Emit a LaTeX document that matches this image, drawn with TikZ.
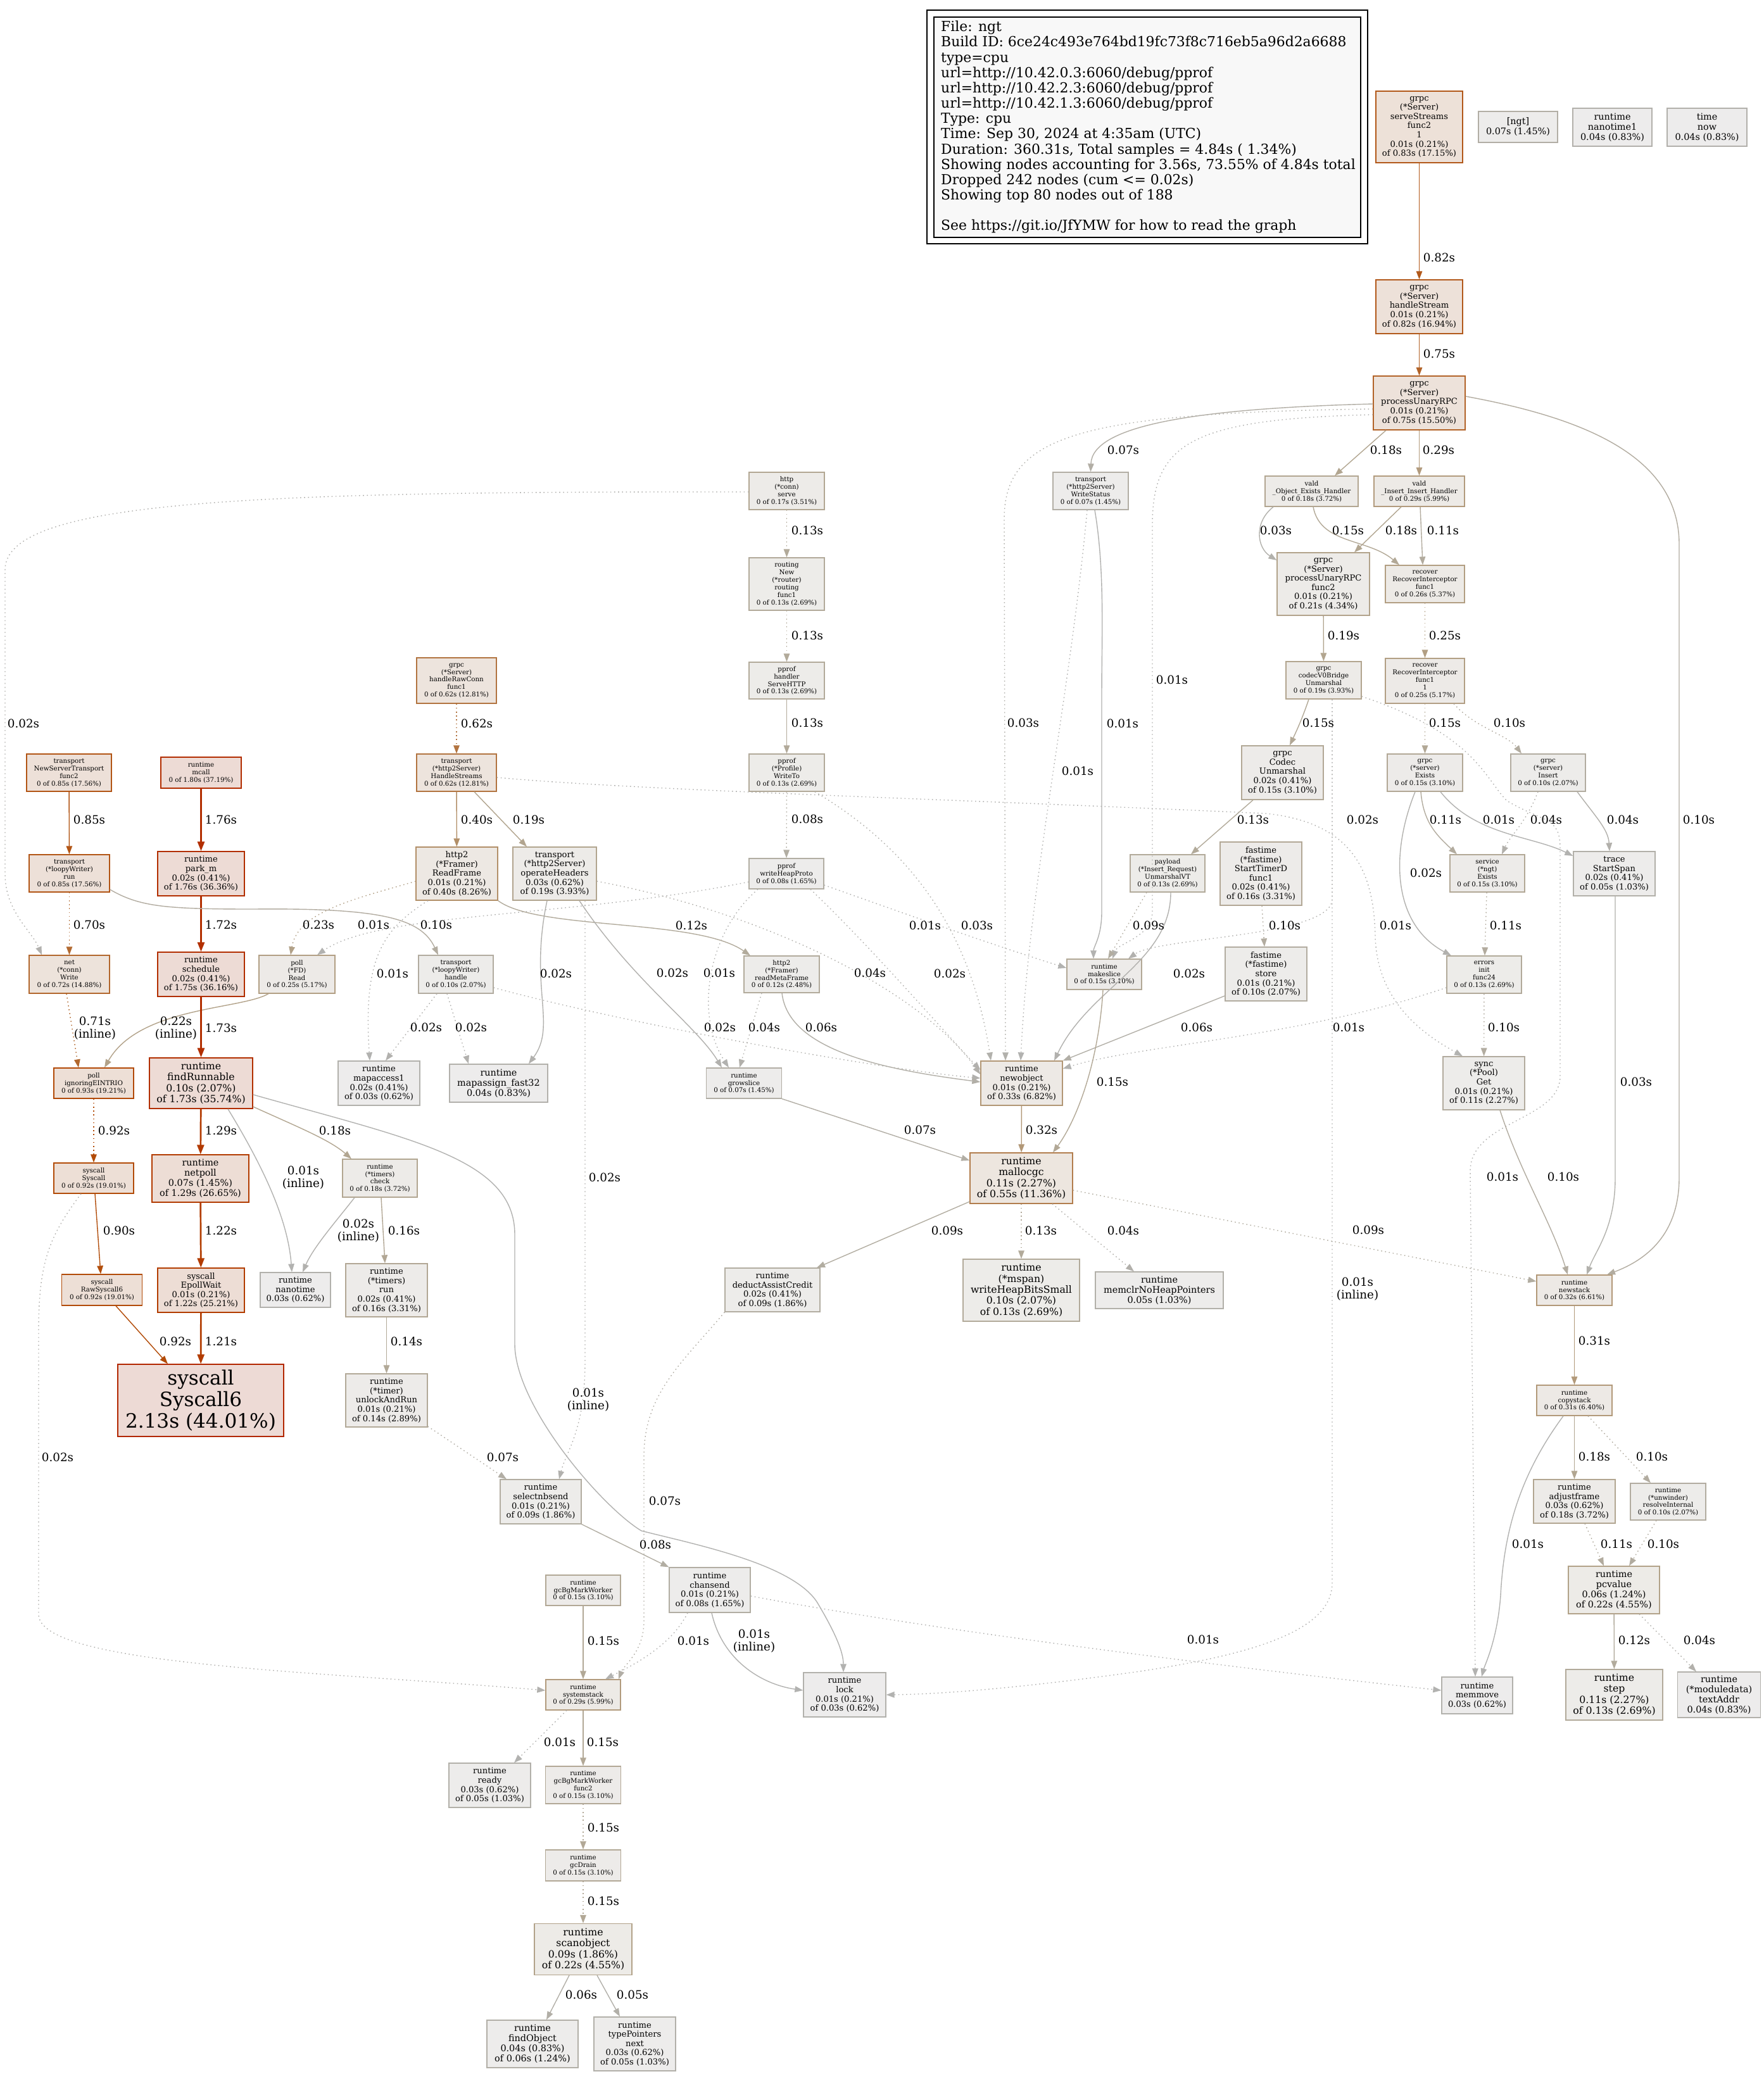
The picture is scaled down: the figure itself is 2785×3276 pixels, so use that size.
\documentclass[tikz,border=0pt]{standalone}
\usepackage{fontspec}
\setmainfont{DejaVu Serif}
\usetikzlibrary{arrows.meta}
\newcommand\fzA{\fontsize{10.3}{11.9}\selectfont}
\newcommand\fzB{\fontsize{13.1}{14.6}\selectfont}
\newcommand\fzC{\fontsize{14.4}{16.1}\selectfont}
\newcommand\fzD{\fontsize{15.7}{17.4}\selectfont}
\newcommand\fzE{\fontsize{31.1}{34.4}\selectfont}
\newcommand\fzG{\fontsize{18.3}{20.2}\selectfont}
\newcommand\fzL{\fontsize{21.9}{24.15}\selectfont}
\newcommand\gvcol[3]{\definecolor{F#1}{HTML}{#2}\definecolor{E#1}{HTML}{#3}\tikzset{k#1/.style={fill=F#1,draw=E#1},w#1/.style={draw=E#1}}}
\gvcol{001}{EDECEC}{B2B2B0}
\gvcol{002}{EDECEC}{B2B1AE}
\gvcol{003}{EDECEC}{B2B1AC}
\gvcol{004}{EDECEC}{B2B0AB}
\gvcol{005}{EDECEB}{B2B0A9}
\gvcol{006}{EDECEB}{B2AFA7}
\gvcol{007}{EDECEB}{B2AEA5}
\gvcol{008}{EDECEB}{B2AEA3}
\gvcol{009}{EDECEA}{B2ADA1}
\gvcol{010}{EDECEA}{B2ACA0}
\gvcol{011}{EDECEA}{B2AB9E}
\gvcol{012}{EDECEA}{B2AB9C}
\gvcol{013}{EDECE9}{B2AA9A}
\gvcol{014}{EDEBE9}{B2A998}
\gvcol{015}{EDEBE9}{B2A896}
\gvcol{016}{EDEBE9}{B2A795}
\gvcol{017}{EDEBE8}{B2A793}
\gvcol{018}{EDEBE8}{B2A691}
\gvcol{019}{EDEBE8}{B2A58F}
\gvcol{021}{EDEBE8}{B2A38B}
\gvcol{022}{EDEBE7}{B2A289}
\gvcol{023}{EDEBE7}{B2A188}
\gvcol{025}{EDEAE7}{B29F84}
\gvcol{026}{EDEAE6}{B29E82}
\gvcol{029}{EDEAE6}{B29B7D}
\gvcol{031}{EDE9E5}{B29979}
\gvcol{032}{EDE9E5}{B29877}
\gvcol{033}{EDE9E5}{B29775}
\gvcol{040}{EDE8E3}{B28F68}
\gvcol{055}{EDE6DF}{B27D4D}
\gvcol{062}{EDE4DD}{B27440}
\gvcol{070}{EDE3DB}{B26A31}
\gvcol{071}{EDE3DB}{B2682F}
\gvcol{072}{EDE3DB}{B2672D}
\gvcol{075}{EDE2DA}{B26328}
\gvcol{082}{EDE1D9}{B2591B}
\gvcol{083}{EDE1D8}{B25819}
\gvcol{085}{EDE0D8}{B25515}
\gvcol{090}{EDDFD6}{B24E0C}
\gvcol{092}{EDDFD6}{B24B08}
\gvcol{093}{EDDFD6}{B24907}
\gvcol{121}{EDDDD5}{B23C00}
\gvcol{122}{EDDDD5}{B23C00}
\gvcol{129}{EDDDD5}{B23A00}
\gvcol{172}{EDDBD5}{B22F00}
\gvcol{173}{EDDBD5}{B22F00}
\gvcol{175}{EDDBD5}{B22E00}
\gvcol{176}{EDDBD5}{B22E00}
\gvcol{180}{EDDBD5}{B22D00}
\gvcol{213}{EDDAD5}{B22600}
\definecolor{legfill}{HTML}{F8F8F8}
\tikzset{
  gv/.style={rectangle, line width=1.3pt, inner sep=0pt, align=center},
  f8/.style={font=\fzA}, f10/.style={font=\fzB}, f11/.style={font=\fzC},
  f12/.style={font=\fzD}, f24/.style={font=\fzE},
  ed/.style={line width=1.4pt, -{Triangle[length=13pt,width=9.5pt]}},
  thk/.style={line width=2.7pt, -{Triangle[length=15pt,width=11pt]}},
  dt/.style={dash pattern=on 1.6pt off 4.6pt},
  elbl/.style={font=\fzG, align=center, inner sep=0pt},
  legbox/.style={draw=black, line width=1.4pt, inner sep=0pt}
}
\newcommand\gvnode[7]{\node[gv,#6,minimum width=#4pt,minimum height=#5pt] (#1) at (#2,#3) {#7};}
\newcommand\gvlab[4]{\node[elbl] (#1) at (#2,#3) {#4};}
\begin{document}
\begin{tikzpicture}[x=1pt,y=-1pt]
\useasboundingbox (0,0) rectangle (2785,3276);
\fill[white] (0,0) rectangle (2785,3276);
% legend
\node[legbox, minimum width=696pt, minimum height=369pt] (legO) at (1812,200.5) {};
\node[legbox, fill=legfill, minimum width=674pt, minimum height=348pt] (legI) at (1812,201) {};
\node[anchor=north west, inner sep=0pt, align=left, font=\fzL] (legT) at (1486,33) {File: ngt\\Build ID: 6ce24c493e764bd19fc73f8c716eb5a96d2a6688\\type=cpu\\url=http://10.42.0.3:6060/debug/pprof\\url=http://10.42.2.3:6060/debug/pprof\\url=http://10.42.1.3:6060/debug/pprof\\Type: cpu\\Time: Sep 30, 2024 at 4:35am (UTC)\\Duration: 360.31s, Total samples = 4.84s ( 1.34\%)\\Showing nodes accounting for 3.56s, 73.55\% of 4.84s total\\Dropped 242 nodes (cum <= 0.02s)\\Showing top 80 nodes out of 188\\[24.15pt]See https://git.io/JfYMW for how to read the graph};
% nodes
\gvnode{serveStreams}{2241.5}{200.5}{137}{113}{f10,k083}{grpc\\(*Server)\\serveStreams\\func2\\1\\0.01s (0.21\%)\\of 0.83s (17.15\%)}
\gvnode{ngt}{2397.5}{200.5}{125}{49}{f11,k007}{[ngt]\\0.07s (1.45\%)}
\gvnode{nanotimeA}{2546.5}{201}{125}{60}{f11,k004}{runtime\\nanotime1\\0.04s (0.83\%)}
\gvnode{timenow}{2696}{201}{126}{60}{f11,k004}{time\\now\\0.04s (0.83\%)}
\gvnode{handleStream}{2241.5}{484.5}{137}{85}{f10,k082}{grpc\\(*Server)\\handleStream\\0.01s (0.21\%)\\of 0.82s (16.94\%)}
\gvnode{PURPC}{2241.5}{636.5}{145}{85}{f10,k075}{grpc\\(*Server)\\processUnaryRPC\\0.01s (0.21\%)\\of 0.75s (15.50\%)}
\gvnode{httpServe}{1242.5}{775.5}{119}{59}{f8,k017}{http\\(*conn)\\serve\\0 of 0.17s (3.51\%)}
\gvnode{WriteStatus}{1722.5}{775.5}{119}{59}{f8,k007}{transport\\(*http2Server)\\WriteStatus\\0 of 0.07s (1.45\%)}
\gvnode{ObjExists}{2071.5}{776}{147}{48}{f8,k018}{vald\\\_Object\_Exists\_Handler\\0 of 0.18s (3.72\%)}
\gvnode{InsertHandler}{2241.5}{776}{143}{48}{f8,k029}{vald\\\_Insert\_Insert\_Handler\\0 of 0.29s (5.99\%)}
\gvnode{routing}{1242.5}{922.5}{119}{83}{f8,k013}{routing\\New\\(*router)\\routing\\func1\\0 of 0.13s (2.69\%)}
\gvnode{PURPCf}{2090}{922.5}{146}{99}{f10,k021}{grpc\\(*Server)\\processUnaryRPC\\func2\\0.01s (0.21\%)\\of 0.21s (4.34\%)}
\gvnode{recoverA}{2250.5}{922.5}{125}{59}{f8,k026}{recover\\RecoverInterceptor\\func1\\0 of 0.26s (5.37\%)}
\gvnode{ServeHTTP}{1242.5}{1075}{119}{58}{f8,k013}{pprof\\handler\\ServeHTTP\\0 of 0.13s (2.69\%)}
\gvnode{handleRawConn}{721}{1075}{126}{72}{f8,k062}{grpc\\(*Server)\\handleRawConn\\func1\\0 of 0.62s (12.81\%)}
\gvnode{codecV}{2090.5}{1074.5}{119}{59}{f8,k019}{grpc\\codecV0Bridge\\Unmarshal\\0 of 0.19s (3.93\%)}
\gvnode{recoverB}{2250.5}{1075.5}{125}{71}{f8,k025}{recover\\RecoverInterceptor\\func1\\1\\0 of 0.25s (5.17\%)}
\gvnode{NST}{109}{1220.5}{134}{59}{f8,k085}{transport\\NewServerTransport\\func2\\0 of 0.85s (17.56\%)}
\gvnode{mcall}{317.5}{1220.5}{127}{49}{f8,k180}{runtime\\mcall\\0 of 1.80s (37.19\%)}
\gvnode{HandleStreams}{721}{1220.5}{126}{59}{f8,k062}{transport\\(*http2Server)\\HandleStreams\\0 of 0.62s (12.81\%)}
\gvnode{WriteTo}{1242.5}{1220.5}{119}{59}{f8,k013}{pprof\\(*Profile)\\WriteTo\\0 of 0.13s (2.69\%)}
\gvnode{CodecUnm}{2025.5}{1220.5}{129}{85}{f10,k015}{grpc\\Codec\\Unmarshal\\0.02s (0.41\%)\\of 0.15s (3.10\%)}
\gvnode{sExists}{2250.5}{1220.5}{119}{59}{f8,k015}{grpc\\(*server)\\Exists\\0 of 0.15s (3.10\%)}
\gvnode{sInsert}{2445}{1220.5}{118}{59}{f8,k010}{grpc\\(*server)\\Insert\\0 of 0.10s (2.07\%)}
\gvnode{loopyRun}{109.5}{1379.5}{127}{59}{f8,k085}{transport\\(*loopyWriter)\\run\\0 of 0.85s (17.56\%)}
\gvnode{parkm}{317.5}{1380}{137}{70}{f10,k176}{runtime\\park\_m\\0.02s (0.41\%)\\of 1.76s (36.36\%)}
\gvnode{ReadFrame}{721.5}{1380}{129}{84}{f10,k040}{http2\\(*Framer)\\ReadFrame\\0.01s (0.21\%)\\of 0.40s (8.26\%)}
\gvnode{opHeaders}{876}{1380}{132}{84}{f10,k019}{transport\\(*http2Server)\\operateHeaders\\0.03s (0.62\%)\\of 0.19s (3.93\%)}
\gvnode{wHeapProto}{1242}{1380}{118}{48}{f8,k008}{pprof\\writeHeapProto\\0 of 0.08s (1.65\%)}
\gvnode{payload}{1844}{1379.5}{118}{59}{f8,k013}{payload\\(*Insert\_Request)\\UnmarshalVT\\0 of 0.13s (2.69\%)}
\gvnode{StartTimerD}{1991.5}{1380}{129}{100}{f10,k016}{fastime\\(*fastime)\\StartTimerD\\func1\\0.02s (0.41\%)\\of 0.16s (3.31\%)}
\gvnode{ngtExists}{2349}{1379.5}{118}{59}{f8,k015}{service\\(*ngt)\\Exists\\0 of 0.15s (3.10\%)}
\gvnode{StartSpan}{2549.5}{1380}{129}{70}{f10,k005}{trace\\StartSpan\\0.02s (0.41\%)\\of 0.05s (1.03\%)}
\gvnode{netWrite}{109.5}{1539}{127}{60}{f8,k072}{net\\(*conn)\\Write\\0 of 0.72s (14.88\%)}
\gvnode{schedule}{317.5}{1539}{137}{70}{f10,k175}{runtime\\schedule\\0.02s (0.41\%)\\of 1.75s (36.16\%)}
\gvnode{FDRead}{469}{1539}{120}{60}{f8,k025}{poll\\(*FD)\\Read\\0 of 0.25s (5.17\%)}
\gvnode{loopyHandle}{720}{1539}{118}{60}{f8,k010}{transport\\(*loopyWriter)\\handle\\0 of 0.10s (2.07\%)}
\gvnode{readMeta}{1234.5}{1539}{119}{58}{f8,k012}{http2\\(*Framer)\\readMetaFrame\\0 of 0.12s (2.48\%)}
\gvnode{makeslice}{1744}{1539}{118}{48}{f8,k015}{runtime\\makeslice\\0 of 0.15s (3.10\%)}
\gvnode{fastore}{1999.5}{1538.5}{129}{85}{f10,k010}{fastime\\(*fastime)\\store\\0.01s (0.21\%)\\of 0.10s (2.07\%)}
\gvnode{errInit}{2344}{1539.5}{118}{59}{f8,k013}{errors\\init\\func24\\0 of 0.13s (2.69\%)}
\gvnode{ignEINTR}{148}{1711}{126}{48}{f8,k093}{poll\\ignoringEINTRIO\\0 of 0.93s (19.21\%)}
\gvnode{findRunnable}{317.5}{1711}{163}{80}{f12,k173}{runtime\\findRunnable\\0.10s (2.07\%)\\of 1.73s (35.74\%)}
\gvnode{mapaccess}{598.5}{1711}{129}{70}{f10,k003}{runtime\\mapaccess1\\0.02s (0.41\%)\\of 0.03s (0.62\%)}
\gvnode{mapassign}{787.5}{1711}{155}{60}{f11,k004}{runtime\\mapassign\_fast32\\0.04s (0.83\%)}
\gvnode{growslice}{1175}{1711}{119}{48}{f8,k007}{runtime\\growslice\\0 of 0.07s (1.45\%)}
\gvnode{newobject}{1613.5}{1711}{129}{70}{f10,k033}{runtime\\newobject\\0.01s (0.21\%)\\of 0.33s (6.82\%)}
\gvnode{poolGet}{2343.5}{1711}{129}{84}{f10,k011}{sync\\(*Pool)\\Get\\0.01s (0.21\%)\\of 0.11s (2.27\%)}
\gvnode{sSyscall}{148}{1861}{126}{48}{f8,k092}{syscall\\Syscall\\0 of 0.92s (19.01\%)}
\gvnode{netpoll}{316.5}{1861.5}{153}{75}{f11,k129}{runtime\\netpoll\\0.07s (1.45\%)\\of 1.29s (26.65\%)}
\gvnode{tCheck}{600}{1861}{118}{60}{f8,k018}{runtime\\(*timers)\\check\\0 of 0.18s (3.72\%)}
\gvnode{mallocgc}{1613}{1861}{162}{80}{f12,k055}{runtime\\mallocgc\\0.11s (2.27\%)\\of 0.55s (11.36\%)}
\gvnode{RawSys}{161}{2037.5}{127}{49}{f8,k092}{syscall\\RawSyscall6\\0 of 0.92s (19.01\%)}
\gvnode{EpollWait}{317.5}{2038}{137}{70}{f10,k122}{syscall\\EpollWait\\0.01s (0.21\%)\\of 1.22s (25.21\%)}
\gvnode{nanotime}{466.5}{2037.5}{111}{55}{f10,k003}{runtime\\nanotime\\0.03s (0.62\%)}
\gvnode{tRun}{610.5}{2038}{129}{84}{f10,k016}{runtime\\(*timers)\\run\\0.02s (0.41\%)\\of 0.16s (3.31\%)}
\gvnode{deduct}{1220}{2037.5}{150}{69}{f10,k009}{runtime\\deductAssistCredit\\0.02s (0.41\%)\\of 0.09s (1.86\%)}
\gvnode{wHBS}{1613}{2038}{184}{98}{f12,k013}{runtime\\(*mspan)\\writeHeapBitsSmall\\0.10s (2.07\%)\\of 0.13s (2.69\%)}
\gvnode{memclr}{1831}{2038}{202}{58}{f11,k005}{runtime\\memclrNoHeapPointers\\0.05s (1.03\%)}
\gvnode{newstack}{2486.5}{2038}{119}{48}{f8,k032}{runtime\\newstack\\0 of 0.32s (6.61\%)}
\gvnode{Syscall}{317}{2212}{262}{114}{f24,k213}{syscall\\Syscall6\\2.13s (44.01\%)}
\gvnode{unlockAndRun}{610.5}{2212}{129}{84}{f10,k014}{runtime\\(*timer)\\unlockAndRun\\0.01s (0.21\%)\\of 0.14s (2.89\%)}
\gvnode{copystack}{2486.5}{2212}{119}{48}{f8,k031}{runtime\\copystack\\0 of 0.31s (6.40\%)}
\gvnode{selectnbsend}{854}{2372}{128}{70}{f10,k009}{runtime\\selectnbsend\\0.01s (0.21\%)\\of 0.09s (1.86\%)}
\gvnode{adjustframe}{2486.5}{2371.5}{129}{69}{f10,k018}{runtime\\adjustframe\\0.03s (0.62\%)\\of 0.18s (3.72\%)}
\gvnode{unwinder}{2634.5}{2372}{119}{58}{f8,k010}{runtime\\(*unwinder)\\resolveInternal\\0 of 0.10s (2.07\%)}
\gvnode{gcBgMW}{921}{2512}{118}{48}{f8,k015}{runtime\\gcBgMarkWorker\\0 of 0.15s (3.10\%)}
\gvnode{chansend}{1121}{2511.5}{128}{71}{f10,k008}{runtime\\chansend\\0.01s (0.21\%)\\of 0.08s (1.65\%)}
\gvnode{pcvalue}{2549}{2511.5}{144}{75}{f11,k022}{runtime\\pcvalue\\0.06s (1.24\%)\\of 0.22s (4.55\%)}
\gvnode{systemstack}{921}{2677}{118}{48}{f8,k029}{runtime\\systemstack\\0 of 0.29s (5.99\%)}
\gvnode{lock}{1334}{2677}{130}{70}{f10,k003}{runtime\\lock\\0.01s (0.21\%)\\of 0.03s (0.62\%)}
\gvnode{memmove}{2333}{2678}{112}{58}{f10,k003}{runtime\\memmove\\0.03s (0.62\%)}
\gvnode{step}{2549.5}{2677}{153}{80}{f12,k013}{runtime\\step\\0.11s (2.27\%)\\of 0.13s (2.69\%)}
\gvnode{textAddr}{2715}{2677}{131}{72}{f11,k004}{runtime\\(*moduledata)\\textAddr\\0.04s (0.83\%)}
\gvnode{ready}{773.5}{2820}{129}{70}{f10,k005}{runtime\\ready\\0.03s (0.62\%)\\of 0.05s (1.03\%)}
\gvnode{gcBgMWf}{921}{2819.5}{119}{59}{f8,k015}{runtime\\gcBgMarkWorker\\func2\\0 of 0.15s (3.10\%)}
\gvnode{gcDrain}{921}{2946.5}{119}{49}{f8,k015}{runtime\\gcDrain\\0 of 0.15s (3.10\%)}
\gvnode{scanobject}{921}{3079}{154}{81}{f12,k022}{runtime\\scanobject\\0.09s (1.86\%)\\of 0.22s (4.55\%)}
\gvnode{findObject}{841}{3228.5}{144}{75}{f11,k006}{runtime\\findObject\\0.04s (0.83\%)\\of 0.06s (1.24\%)}
\gvnode{typePointers}{1002.5}{3228.5}{129}{85}{f10,k005}{runtime\\typePointers\\next\\0.03s (0.62\%)\\of 0.05s (1.03\%)}
% edges
\draw[ed,w082] (serveStreams) -- (handleStream);
\draw[ed,w075] (handleStream) -- (PURPC);
\draw[ed,w018] (PURPC.south -| 2189,0) -- (ObjExists.north -| 2108,0);
\draw[ed,w029] (PURPC) -- (InsertHandler);
\draw[ed,w007] (PURPC.west |- 0,638) .. controls (1900,645) and (1725,670) .. (WriteStatus.north);
\draw[ed,dt,w003] (PURPC.west |- 0,646) .. controls (1700,652) and (1586,690) .. (1586,820) -- (newobject.north -| 1588,0);
\draw[ed,dt,w001] (PURPC.west |- 0,655) .. controls (1880,662) and (1820,700) .. (1820,830) -- (1820,1440) .. controls (1820,1480) and (1765,1490) .. (makeslice.north -| 1757,0);
\draw[ed,w010] (PURPC.east |- 0,626) .. controls (2500,660) and (2652,720) .. (2652,860) -- (2652,1860) .. controls (2652,1950) and (2600,1990) .. (newstack.north -| 2538,0);
\draw[ed,w003] (ObjExists.south -| 2011,0) .. controls (1980,825) and (1985,865) .. (PURPCf.west |- 0,885);
\draw[ed,w015] (ObjExists.south -| 2074,0) .. controls (2085,860) and (2160,850) .. (recoverA.north -| 2210,0);
\draw[ed,w018] (InsertHandler.south -| 2213,0) -- (PURPCf.north -| 2139,0);
\draw[ed,w011] (InsertHandler.south -| 2243,0) -- (recoverA.north -| 2247,0);
\draw[ed,w019] (PURPCf) -- (codecV);
\draw[ed,dt,w025] (recoverA) -- (recoverB);
\draw[ed,w015] (codecV.south -| 2067,0) .. controls (2055,1140) and (2045,1160) .. (CodecUnm.north -| 2037,0);
\draw[ed,dt,w002] (codecV.south -| 2104,0) -- (2104,1420) .. controls (2104,1480) and (1830,1480) .. (makeslice.north -| 1782,0);
\draw[ed,dt,w001] (codecV.east |- 0,1100) .. controls (2330,1160) and (2345,1230) .. (2380,1265) .. controls (2440,1300) and (2464,1290) .. (2464,1340) -- (2464,1700) .. controls (2464,1770) and (2322,1770) .. (2322,1850) -- (memmove.north -| 2330,0);
\draw[ed,dt,w001] (codecV.south -| 2104,0) -- (2104,2500) .. controls (2104,2570) and (2000,2610) .. (1800,2640) .. controls (1600,2668) and (1480,2676) .. (lock.east);
\draw[ed,dt,w015] (recoverB) -- (sExists);
\draw[ed,dt,w010] (recoverB.south -| 2296,0) .. controls (2330,1150) and (2380,1160) .. (sInsert.north -| 2403,0);
\draw[ed,w013] (CodecUnm.south -| 1979,0) -- (payload.north -| 1881,0);
\draw[ed,w011] (sExists.south -| 2244,0) .. controls (2248,1300) and (2270,1320) .. (ngtExists.north -| 2301,0);
\draw[ed,w001] (sExists.south -| 2275,0) .. controls (2330,1320) and (2420,1320) .. (StartSpan.west |- 0,1352);
\draw[ed,w002] (sExists.south -| 2235,0) .. controls (2195,1350) and (2200,1460) .. (errInit.north -| 2292,0);
\draw[ed,dt,w004] (sInsert.south -| 2429,0) .. controls (2410,1300) and (2385,1320) .. (ngtExists.north -| 2372,0);
\draw[ed,w004] (sInsert.south -| 2491,0) .. controls (2520,1290) and (2540,1310) .. (StartSpan.north -| 2542,0);
\draw[ed,dt,w009] (payload.south -| 1811,0) -- (makeslice.north -| 1750,0);
\draw[ed,w002] (payload.south -| 1849,0) .. controls (1849,1520) and (1720,1560) .. (newobject.north -| 1665,0);
\draw[ed,dt,w010] (StartTimerD.south -| 1993,0) -- (fastore.north -| 1997,0);
\draw[ed,dt,w011] (ngtExists) -- (errInit);
\draw[ed,dt,w010] (errInit) -- (poolGet);
\draw[ed,dt,w001] (errInit.west |- 0,1560) .. controls (2050,1640) and (1800,1650) .. (newobject.east |- 0,1688);
\draw[ed,w003] (StartSpan.south -| 2551,0) -- (2551,1860) .. controls (2551,1940) and (2520,1975) .. (newstack.north -| 2506,0);
\draw[ed,w010] (poolGet.south -| 2369,0) .. controls (2400,1850) and (2450,1930) .. (newstack.north -| 2476,0);
\draw[ed,w006] (fastore.west |- 0,1573) -- (newobject.north east);
\draw[ed,w015] (makeslice.south -| 1742,0) .. controls (1735,1680) and (1700,1770) .. (mallocgc.north -| 1663,0);
\draw[ed,w032] (newobject) -- (mallocgc);
\draw[ed,w007] (growslice.south east) -- (mallocgc.west |- 0,1833);
\draw[ed,dt,w001] (HandleStreams.east |- 0,1228) .. controls (1000,1248) and (1500,1262) .. (2000,1285) .. controls (2140,1300) and (2170,1380) .. (2172,1480) .. controls (2175,1590) and (2260,1640) .. (poolGet.north -| 2310,0);
\draw[ed,w009] (mallocgc.west |- 0,1898) -- (deduct.north -| 1290,0);
\draw[ed,dt,w013] (mallocgc) -- (wHBS);
\draw[ed,dt,w004] (mallocgc.south -| 1662,0) -- (memclr.north -| 1791,0);
\draw[ed,dt,w009] (mallocgc.east |- 0,1880) -- (newstack.west |- 0,2024);
\draw[ed,w031] (newstack) -- (copystack);
\draw[ed,w018] (copystack) -- (adjustframe);
\draw[ed,dt,w010] (copystack.south -| 2508,0) -- (unwinder.north -| 2607,0);
\draw[ed,w001] (copystack.south -| 2469,0) .. controls (2400,2330) and (2375,2420) .. (2370,2520) .. controls (2365,2590) and (2345,2630) .. (memmove.north -| 2340,0);
\draw[ed,dt,w011] (adjustframe.south -| 2503,0) -- (pcvalue.north -| 2533,0);
\draw[ed,dt,w010] (unwinder.south -| 2616,0) -- (pcvalue.north -| 2573,0);
\draw[ed,w012] (pcvalue) -- (step);
\draw[ed,dt,w004] (pcvalue.south -| 2589,0) -- (textAddr.north -| 2679,0);
\draw[ed,dt,w007] (deduct.south west) .. controls (1080,2150) and (1017,2200) .. (1017,2300) -- (1017,2560) .. controls (1017,2610) and (985,2630) .. (systemstack.north -| 977,0);
\draw[ed,w001] (findRunnable.east |- 0,1729) .. controls (650,1800) and (813,1830) .. (813,1950) -- (813,2123) .. controls (813,2220) and (950,2380) .. (1013,2418) .. controls (1100,2440) and (1250,2470) .. (1290,2530) .. controls (1320,2580) and (1332,2610) .. (lock.north -| 1332,0);
\draw[ed,dt,w002] (opHeaders.south -| 924,0) -- (924,2150) .. controls (924,2260) and (895,2290) .. (selectnbsend.north -| 883,0);
\draw[ed,dt,w007] (unlockAndRun.east |- 0,2253) -- (selectnbsend.north -| 800,0);
\draw[ed,w008] (selectnbsend.south east) -- (chansend.north west);
\draw[ed,dt,w001] (chansend.south -| 1086,0) .. controls (1060,2600) and (1000,2630) .. (systemstack.north -| 956,0);
\draw[ed,w001] (chansend.south -| 1124,0) .. controls (1140,2620) and (1200,2660) .. (lock.west |- 0,2670);
\draw[ed,dt,w001] (chansend.east |- 0,2521) .. controls (1500,2580) and (2000,2640) .. (memmove.west |- 0,2670);
\draw[ed,w015] (gcBgMW) -- (systemstack);
\draw[ed,dt,w002] (sSyscall.south -| 128,0) .. controls (80,1950) and (61,1990) .. (61,2100) -- (61,2550) .. controls (61,2630) and (500,2640) .. (systemstack.west |- 0,2670);
\draw[ed,dt,w001] (systemstack.south -| 895,0) -- (ready.north -| 812,0);
\draw[ed,w015] (systemstack) -- (gcBgMWf);
\draw[ed,dt,w015] (gcBgMWf) -- (gcDrain);
\draw[ed,dt,w015] (gcDrain) -- (scanobject);
\draw[ed,w006] (scanobject.south -| 899,0) -- (findObject.north -| 863,0);
\draw[ed,w005] (scanobject.south -| 943,0) -- (typePointers.north -| 979,0);
\draw[ed,w002] (tCheck.south -| 560,0) .. controls (530,1930) and (495,1970) .. (nanotime.north -| 478,0);
\draw[ed,w016] (tCheck.south -| 602,0) -- (tRun.north -| 608,0);
\draw[ed,w014] (tRun) -- (unlockAndRun);
\draw[thk,w129] (findRunnable) -- (netpoll);
\draw[ed,w018] (findRunnable.east |- 0,1748) .. controls (470,1780) and (520,1800) .. (tCheck.north -| 555,0);
\draw[ed,w001] (findRunnable.south -| 360,0) .. controls (420,1850) and (455,1930) .. (nanotime.north -| 461,0);
\draw[thk,w122] (netpoll) -- (EpollWait);
\draw[thk,w121] (EpollWait) -- (Syscall);
\draw[ed,w092] (RawSys.south -| 183,0) -- (Syscall.north -| 265,0);
\draw[ed,w090] (sSyscall.south -| 150,0) -- (RawSys.north -| 159,0);
\draw[ed,dt,w092] (ignEINTR) -- (sSyscall);
\draw[ed,dt,w071] (netWrite.south -| 105,0) -- (ignEINTR.north -| 124,0);
\draw[ed,w022] (FDRead.south -| 424,0) .. controls (380,1595) and (220,1590) .. (ignEINTR.north -| 165,0);
\draw[thk,w173] (schedule) -- (findRunnable);
\draw[thk,w172] (parkm) -- (schedule);
\draw[thk,w176] (mcall) -- (parkm);
\draw[ed,w085] (NST) -- (loopyRun);
\draw[ed,dt,w070] (loopyRun) -- (netWrite);
\draw[ed,w010] (loopyRun.east |- 0,1405) .. controls (220,1432) and (260,1436) .. (400,1436) .. controls (600,1434) and (665,1450) .. (loopyHandle.north -| 692,0);
\draw[ed,dt,w002] (httpServe.west |- 0,777) .. controls (400,776) and (8,790) .. (8,900) -- (8,1380) .. controls (8,1440) and (50,1470) .. (netWrite.north -| 66,0);
\draw[ed,dt,w013] (httpServe) -- (routing);
\draw[ed,dt,w013] (routing) -- (ServeHTTP);
\draw[ed,w013] (ServeHTTP) -- (WriteTo);
\draw[ed,dt,w008] (WriteTo) -- (wHeapProto);
\draw[ed,dt,w003] (WriteTo.south -| 1287,0) .. controls (1420,1330) and (1530,1450) .. (newobject.north -| 1565,0);
\draw[ed,dt,w001] (wHeapProto.east |- 0,1398) .. controls (1420,1440) and (1560,1490) .. (makeslice.west |- 0,1529);
\draw[ed,dt,w002] (wHeapProto.south -| 1280,0) .. controls (1380,1500) and (1500,1640) .. (newobject.west |- 0,1690);
\draw[ed,dt,w001] (wHeapProto.south -| 1197,0) .. controls (1120,1470) and (1095,1600) .. (growslice.north -| 1151,0);
\draw[ed,dt,w001] (wHeapProto.west |- 0,1393) .. controls (900,1450) and (600,1440) .. (FDRead.north -| 501,0);
\draw[ed,dt,w062] (handleRawConn) -- (HandleStreams);
\draw[ed,w040] (HandleStreams) -- (ReadFrame);
\draw[ed,w019] (HandleStreams.south -| 749,0) -- (opHeaders.north -| 832,0);
\draw[ed,dt,w023] (ReadFrame.west |- 0,1392) .. controls (560,1420) and (470,1440) .. (FDRead.north -| 459,0);
\draw[ed,dt,w001] (ReadFrame.south -| 676,0) .. controls (600,1470) and (574,1520) .. (mapaccess.north -| 584,0);
\draw[ed,w012] (ReadFrame.south east) .. controls (850,1470) and (1100,1450) .. (readMeta.north -| 1185,0);
\draw[ed,w002] (opHeaders.south -| 864,0) .. controls (835,1560) and (880,1620) .. (mapassign.north -| 835,0);
\draw[ed,w002] (opHeaders.south -| 915,0) .. controls (1000,1550) and (1100,1620) .. (growslice.north -| 1140,0);
\draw[ed,dt,w004] (opHeaders.east |- 0,1392) .. controls (1200,1440) and (1450,1560) .. (newobject.west |- 0,1697);
\draw[ed,dt,w002] (loopyHandle.south -| 690,0) -- (mapaccess.north -| 609,0);
\draw[ed,dt,w002] (loopyHandle.south -| 706,0) -- (mapassign.north -| 740,0);
\draw[ed,dt,w002] (loopyHandle.east |- 0,1560) .. controls (1000,1620) and (1400,1690) .. (newobject.west |- 0,1703);
\draw[ed,dt,w004] (readMeta.south -| 1203,0) -- (growslice.north -| 1168,0);
\draw[ed,w006] (readMeta.south -| 1235,0) .. controls (1245,1660) and (1400,1690) .. (newobject.west |- 0,1709);
\draw[ed,w001] (WriteStatus.south -| 1729,0) .. controls (1745,900) and (1740,1000) .. (1740,1100) -- (1740,1440) .. controls (1740,1480) and (1727,1495) .. (makeslice.north -| 1727,0);
\draw[ed,dt,w001] (WriteStatus.south -| 1717,0) .. controls (1690,1100) and (1625,1400) .. (newobject.north -| 1612,0);
% labels
\gvlab{la}{2273}{407}{0.82s}
\gvlab{lb}{2273}{559}{0.75s}
\gvlab{lc}{2189}{711}{0.18s}
\gvlab{ld}{2272}{711}{0.29s}
\gvlab{le}{1774}{711}{0.07s}
\gvlab{lf}{1616}{1142}{0.03s}
\gvlab{lg}{1851}{1074}{0.01s}
\gvlab{lh}{2683}{1295}{0.10s}
\gvlab{li}{2015}{838}{0.03s}
\gvlab{lj}{2129}{838}{0.15s}
\gvlab{lk}{2213}{838}{0.18s}
\gvlab{ll}{2279}{838}{0.11s}
\gvlab{lm}{2122}{1004}{0.19s}
\gvlab{ln}{2282}{1004}{0.25s}
\gvlab{lo}{2082}{1142}{0.15s}
\gvlab{lp}{2152}{1295}{0.02s}
\gvlab{lq}{2373}{1859}{0.01s}
\gvlab{lr}{2144}{2036}{0.01s\\(inline)}
\gvlab{ls}{2282}{1142}{0.15s}
\gvlab{lt}{2384}{1142}{0.10s}
\gvlab{lu}{1979}{1295}{0.13s}
\gvlab{lv}{2283}{1295}{0.11s}
\gvlab{lw}{2367}{1295}{0.01s}
\gvlab{lx}{2252}{1379}{0.02s}
\gvlab{ly}{2442}{1295}{0.04s}
\gvlab{lz}{2563}{1295}{0.04s}
\gvlab{lA}{1814}{1462}{0.09s}
\gvlab{lB}{1878}{1538}{0.02s}
\gvlab{lC}{2029}{1462}{0.10s}
\gvlab{lD}{2378}{1462}{0.11s}
\gvlab{lE}{2375}{1623}{0.10s}
\gvlab{lF}{2130}{1623}{0.01s}
\gvlab{lG}{2584}{1709}{0.03s}
\gvlab{lH}{2469}{1859}{0.10s}
\gvlab{lI}{1890}{1623}{0.06s}
\gvlab{lJ}{1757}{1709}{0.15s}
\gvlab{lK}{1645}{1785}{0.32s}
\gvlab{lL}{1453}{1785}{0.07s}
\gvlab{lM}{2204}{1462}{0.01s}
\gvlab{lN}{1496}{1944}{0.09s}
\gvlab{lO}{1644}{1944}{0.13s}
\gvlab{lP}{1774}{1944}{0.04s}
\gvlab{lQ}{2161}{1943}{0.09s}
\gvlab{lR}{2518}{2118}{0.31s}
\gvlab{lS}{2518}{2301}{0.18s}
\gvlab{lT}{2609}{2301}{0.10s}
\gvlab{lU}{2413}{2439}{0.01s}
\gvlab{lV}{2553}{2439}{0.11s}
\gvlab{lW}{2627}{2439}{0.10s}
\gvlab{lX}{2581}{2591}{0.12s}
\gvlab{lY}{2684}{2591}{0.04s}
\gvlab{lZ}{1050}{2371}{0.07s}
\gvlab{ma}{929}{2211}{0.01s\\(inline)}
\gvlab{mb}{955}{1860}{0.02s}
\gvlab{mc}{794}{2302}{0.07s}
\gvlab{md}{1035}{2440}{0.08s}
\gvlab{me}{1095}{2592}{0.01s}
\gvlab{mf}{1191}{2592}{0.01s\\(inline)}
\gvlab{mg}{1900}{2590}{0.01s}
\gvlab{mh}{953}{2592}{0.15s}
\gvlab{mi}{91}{2302}{0.02s}
\gvlab{mj}{884}{2752}{0.01s}
\gvlab{mk}{952}{2752}{0.15s}
\gvlab{ml}{953}{2887}{0.15s}
\gvlab{mm}{953}{3003}{0.15s}
\gvlab{mn}{918}{3151}{0.06s}
\gvlab{mo}{999}{3151}{0.05s}
\gvlab{mp}{566}{1944}{0.02s\\(inline)}
\gvlab{mq}{638}{1944}{0.16s}
\gvlab{mr}{642}{2119}{0.14s}
\gvlab{ms}{349}{1786}{1.29s}
\gvlab{mt}{529}{1786}{0.18s}
\gvlab{mu}{479}{1860}{0.01s\\(inline)}
\gvlab{mv}{349}{1944}{1.22s}
\gvlab{mw}{349}{2119}{1.21s}
\gvlab{mx}{277}{2119}{0.92s}
\gvlab{my}{188}{1944}{0.90s}
\gvlab{mz}{180}{1786}{0.92s}
\gvlab{nA}{150}{1624}{0.71s\\(inline)}
\gvlab{nB}{278}{1624}{0.22s\\(inline)}
\gvlab{nC}{349}{1624}{1.73s}
\gvlab{nD}{349}{1461}{1.72s}
\gvlab{nE}{349}{1295}{1.76s}
\gvlab{nF}{141}{1295}{0.85s}
\gvlab{nG}{141}{1461}{0.70s}
\gvlab{nH}{689}{1461}{0.10s}
\gvlab{nI}{37}{1143}{0.02s}
\gvlab{nJ}{1275}{838}{0.13s}
\gvlab{nK}{1275}{1004}{0.13s}
\gvlab{nL}{1275}{1142}{0.13s}
\gvlab{nM}{1275}{1294}{0.08s}
\gvlab{nN}{1543}{1462}{0.03s}
\gvlab{nO}{1461}{1462}{0.01s}
\gvlab{nP}{1500}{1538}{0.02s}
\gvlab{nQ}{1136}{1537}{0.01s}
\gvlab{nR}{590}{1461}{0.01s}
\gvlab{nS}{753}{1143}{0.62s}
\gvlab{nT}{753}{1295}{0.40s}
\gvlab{nU}{835}{1295}{0.19s}
\gvlab{nV}{503}{1461}{0.23s}
\gvlab{nW}{620}{1538}{0.01s}
\gvlab{nX}{1092}{1462}{0.12s}
\gvlab{nY}{878}{1538}{0.02s}
\gvlab{nZ}{1062}{1537}{0.02s}
\gvlab{oa}{1374}{1537}{0.04s}
\gvlab{ob}{673}{1623}{0.02s}
\gvlab{oc}{744}{1623}{0.02s}
\gvlab{od}{1137}{1623}{0.02s}
\gvlab{oe}{1207}{1623}{0.04s}
\gvlab{of}{1297}{1623}{0.06s}
\gvlab{og}{1773}{1143}{0.01s}
\gvlab{oh}{1702}{1218}{0.01s}
\end{tikzpicture}
\end{document}
